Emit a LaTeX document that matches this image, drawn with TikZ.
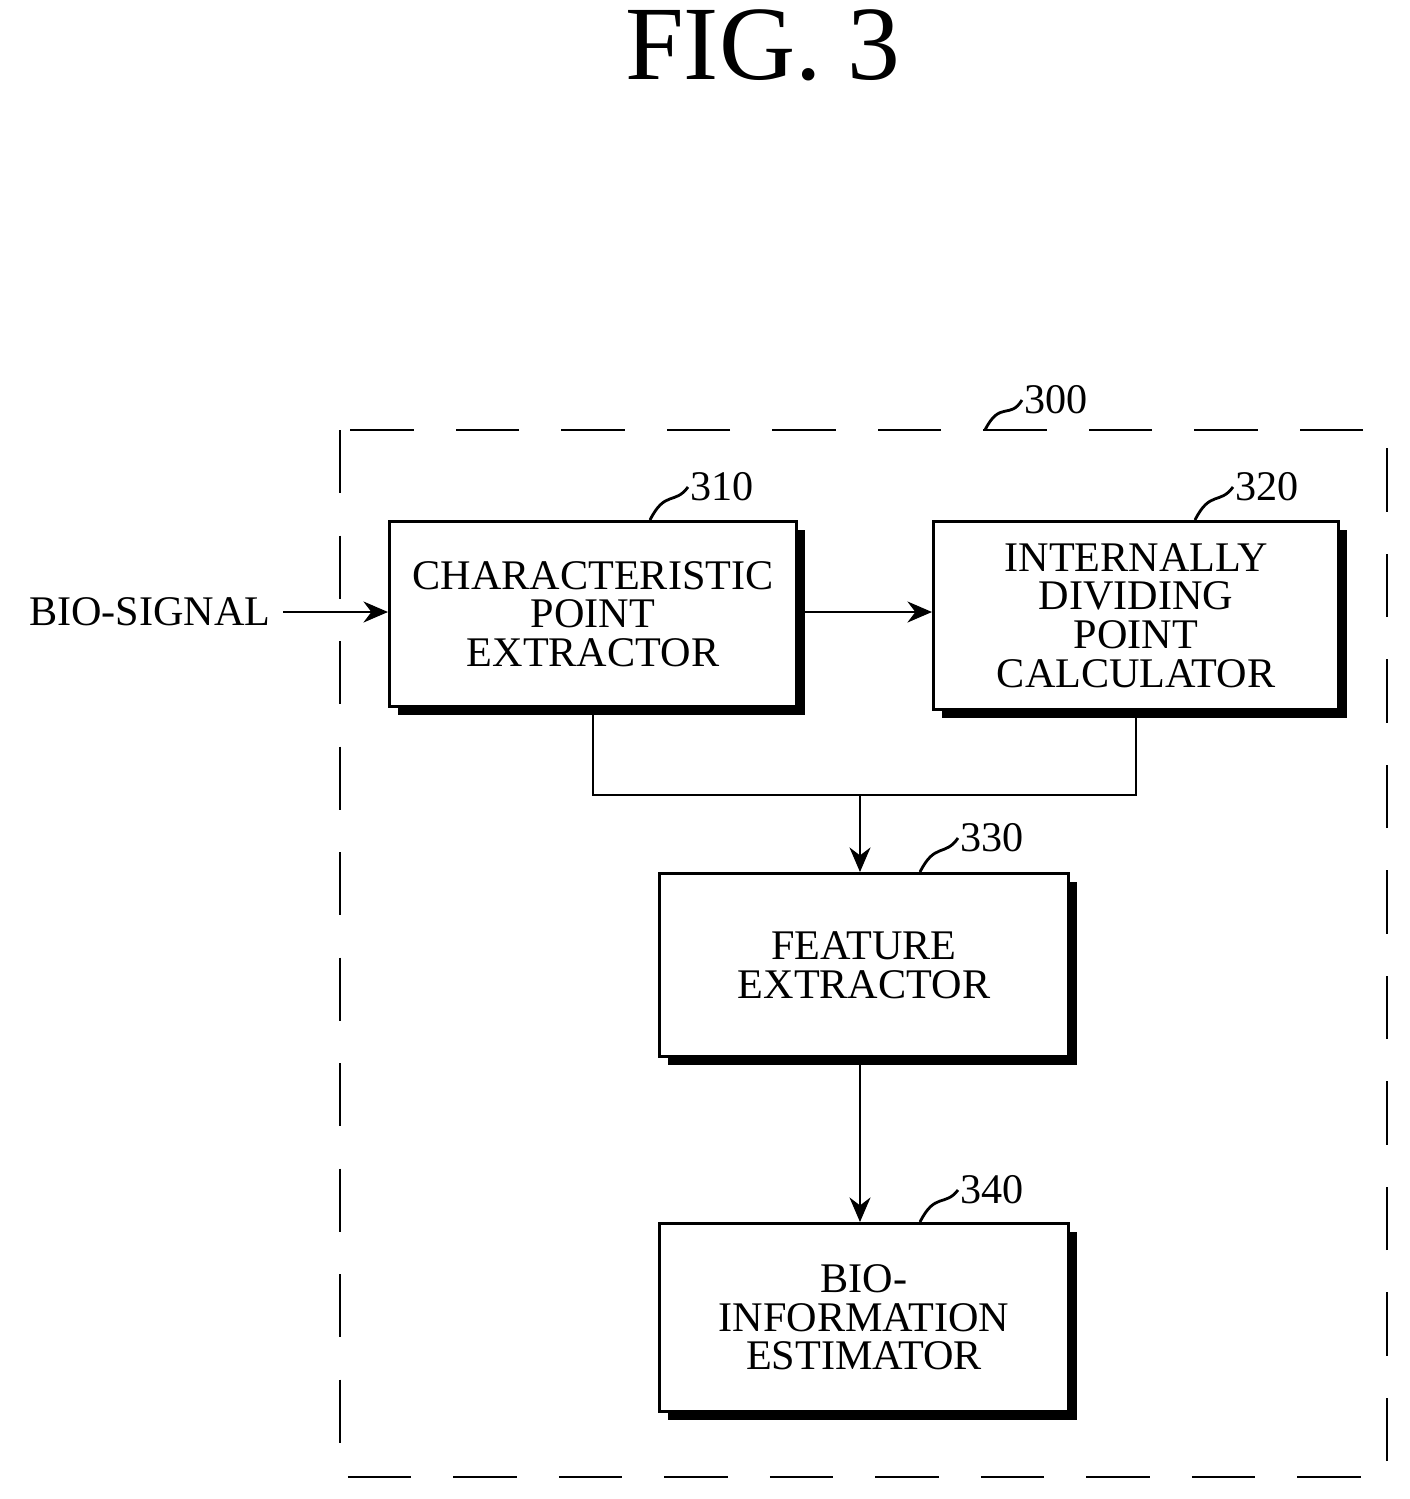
\documentclass[tikz,border=0pt]{standalone}
\usepackage{fontspec}
\setmainfont{Liberation Serif}
\usetikzlibrary{shadows,arrows.meta}
\tikzset{>={Stealth[length=7pt,width=6pt]}, font=\fontsize{12}{11}\selectfont}
\tikzstyle{block} = [draw, thick, fill=white, rectangle, align=center, anchor=north west, inner sep=0pt,
  drop shadow={shadow xshift=2.5pt, shadow yshift=-2.5pt, fill=black, opacity=1}]
\tikzstyle{tag} = [anchor=west, inner sep=1pt]
\tikzstyle{input} = [coordinate]

\begin{document}
\begin{tikzpicture}[x=0.01cm, y=-0.01cm]
    \useasboundingbox (0,0) rectangle (1410,1499);
    \node (title) at (763,45) {\fontsize{30}{30}\selectfont FIG. 3};

    % outer unit
    \draw [thick, dash pattern=on 18pt off 12pt] (340,430) rectangle (1387,1477);
    \draw [thick] (985,430) .. controls (1000,400) and (1010,420) .. (1022,400);
    \node [tag] (l300) at (1020,400) {300};

    \node [block, minimum width=4.07cm, minimum height=1.85cm] (cpe) at (388,520) {CHARACTERISTIC\\POINT\\EXTRACTOR};
    \node [block, minimum width=4.05cm, minimum height=1.88cm] (idp) at (932,520) {INTERNALLY\\DIVIDING\\POINT\\CALCULATOR};
    \node [block, minimum width=4.09cm, minimum height=1.83cm] (fe) at (658,872) {FEATURE\\EXTRACTOR};
    \node [block, minimum width=4.09cm, minimum height=1.88cm] (bie) at (658,1222) {BIO-\\INFORMATION\\ESTIMATOR};

    \draw [thick] (650,520) .. controls (665,490) and (675,505) .. (688,487);
    \node [tag] (l310) at (686,487) {310};
    \draw [thick] (1195,520) .. controls (1210,490) and (1220,505) .. (1233,487);
    \node [tag] (l320) at (1231,487) {320};
    \draw [thick] (920,872) .. controls (935,842) and (945,857) .. (958,838);
    \node [tag] (l330) at (956,838) {330};
    \draw [thick] (920,1222) .. controls (935,1192) and (945,1207) .. (958,1190);
    \node [tag] (l340) at (956,1190) {340};

    \node (sig) at (150,612) {BIO-SIGNAL};
    \coordinate (join) at (860,795);

    \draw [->] (sig) -- (cpe.west |- sig);
    \draw [->] (cpe.east |- sig) -- (idp.west |- sig);
    \draw (cpe.south) |- (join) -| (idp.south);
    \draw [->] (join) -- (fe.north -| join);
    \draw [->] (fe.south -| join) -- (bie.north -| join);
\end{tikzpicture}
\end{document}
